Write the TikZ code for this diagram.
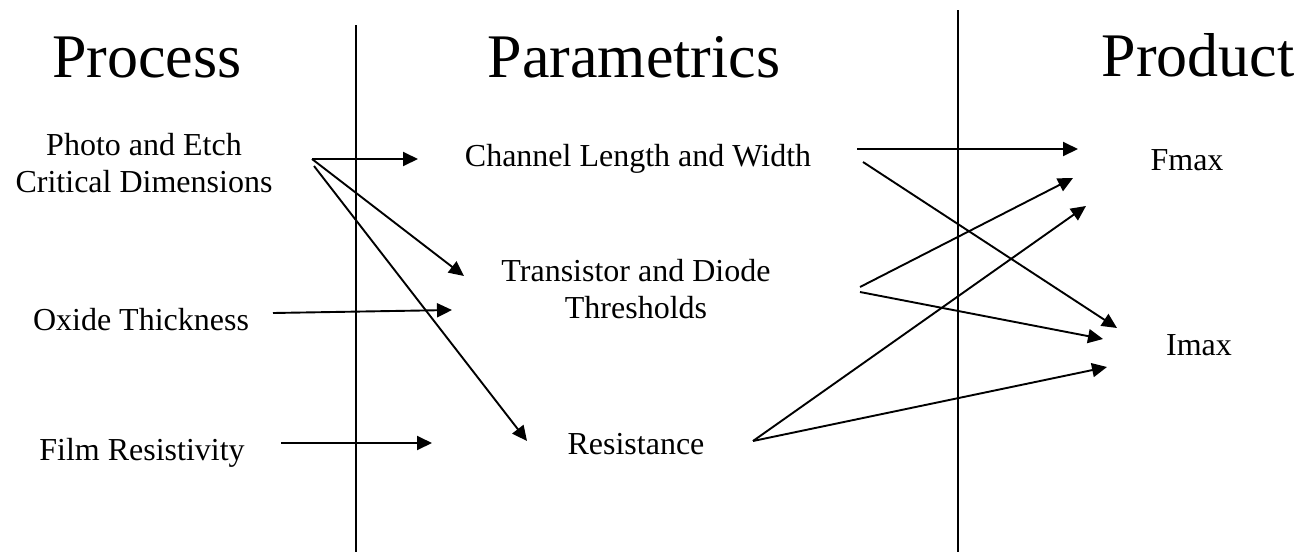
\documentclass[tikz,border=0pt]{standalone}
\usepackage{fontspec}
\setmainfont{Liberation Serif}
\usetikzlibrary{arrows.meta}
\tikzset{
  lbl/.style={inner sep=0pt, anchor=base, font=\fontsize{32}{37}\selectfont, align=center},
  head/.style={inner sep=0pt, anchor=base, font=\fontsize{62}{70}\selectfont},
  conn/.style={line width=1.9pt, -{Triangle[length=15pt,width=14pt]}},
  rule/.style={line width=1.9pt}
}
\begin{document}
\begin{tikzpicture}[x=1pt,y=-1pt]
\useasboundingbox (0,0) rectangle (1304,552);
% headings
\node[head] (hproc) at (147,77) {Process};
\node[head] (hpar) at (634,77) {Parametrics};
\node[head] (hprod) at (1198,76) {Product};
% dividers
\coordinate (v1t) at (356,25);
\coordinate (v1b) at (356,552);
\coordinate (v2t) at (958,10);
\coordinate (v2b) at (958,552);
\draw[rule] (v1t) -- (v1b);
\draw[rule] (v2t) -- (v2b);
% labels (base = last line)
\node[lbl] (photo) at (144,192) {Photo and Etch\\Critical Dimensions};
\node[lbl] (oxide) at (141,330) {Oxide Thickness};
\node[lbl] (film) at (142,460) {Film Resistivity};
\node[lbl] (chan) at (638,166) {Channel Length and Width};
\node[lbl] (trans) at (636,318) {Transistor and Diode\\Thresholds};
\node[lbl] (res) at (636,454) {Resistance};
\node[lbl] (fmax) at (1187,170) {Fmax};
\node[lbl] (imax) at (1199,355) {Imax};
% connector end points
\coordinate (p1) at (312,159);
\coordinate (p2) at (314,166);
\coordinate (c1) at (418,159);
\coordinate (t1) at (464,276);
\coordinate (r1) at (527,441);
\coordinate (o1) at (273,313);
\coordinate (t2) at (452,310);
\coordinate (f1) at (281,443);
\coordinate (r2) at (432,443);
\coordinate (c2) at (857,149);
\coordinate (c3) at (863,162);
\coordinate (fa) at (1078,149);
\coordinate (ia) at (1117,328);
\coordinate (t3) at (860,287);
\coordinate (t4) at (860,292);
\coordinate (fb) at (1073,178);
\coordinate (ib) at (1103,339);
\coordinate (r3) at (753,441);
\coordinate (fc) at (1086,206);
\coordinate (ic) at (1107,367);
% connectors
\draw[conn] (p1) -- (c1);
\draw[conn] (p1) -- (t1);
\draw[conn] (p2) -- (r1);
\draw[conn] (o1) -- (t2);
\draw[conn] (f1) -- (r2);
\draw[conn] (c2) -- (fa);
\draw[conn] (c3) -- (ia);
\draw[conn] (t3) -- (fb);
\draw[conn] (t4) -- (ib);
\draw[conn] (r3) -- (fc);
\draw[conn] (r3) -- (ic);
\end{tikzpicture}
\end{document}
